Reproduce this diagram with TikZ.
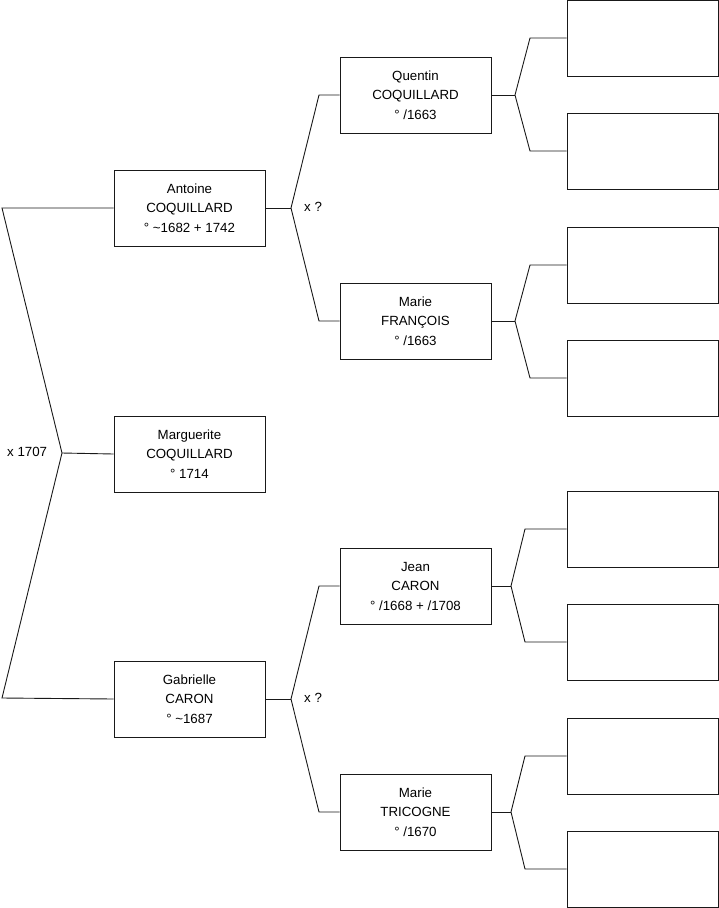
\documentclass[tikz,border=0pt]{standalone}
\usepackage{fontspec}
\setmainfont{Liberation Sans}
\begin{document}
\begin{tikzpicture}[x=1pt,y=-1pt,
  person/.style={draw=black!90,line width=0.9pt,minimum width=151pt,minimum height=76pt,inner sep=0pt,align=center,font=\fontsize{13.3}{19.5}\selectfont},
  link/.style={draw=black!90,line width=0.9pt},
  lbl/.style={font=\fontsize{13.3}{15}\selectfont,inner sep=0pt,anchor=west}]
\useasboundingbox (0,0) rectangle (719,908);
% generation 1-2
\node[person] (antoine) at (189.5,208) {Antoine\\COQUILLARD\\° \textasciitilde1682 + 1742};
\node[person] (marguerite) at (189.5,454) {Marguerite\\COQUILLARD\\° 1714};
\node[person] (gabrielle) at (189.5,699) {Gabrielle\\CARON\\° \textasciitilde1687};
% generation 3
\node[person] (quentin) at (415.5,95) {Quentin\\COQUILLARD\\° /1663};
\node[person] (marief) at (415.5,321) {Marie\\FRANÇOIS\\° /1663};
\node[person] (jean) at (415.5,586) {Jean\\CARON\\° /1668 + /1708};
\node[person] (mariet) at (415.5,812) {Marie\\TRICOGNE\\° /1670};
% generation 4 (empty)
\node[person] (e1) at (642.5,38) {};
\node[person] (e2) at (642.5,151) {};
\node[person] (e3) at (642.5,265) {};
\node[person] (e4) at (642.5,378) {};
\node[person] (e5) at (642.5,529) {};
\node[person] (e6) at (642.5,642) {};
\node[person] (e7) at (642.5,756) {};
\node[person] (e8) at (642.5,869) {};
% left fork
\coordinate (l1) at (2,208);
\coordinate (lm) at (62,453);
\coordinate (l2) at (2,698);
\draw[link] (antoine.west) -- (l1) -- (lm) -- (l2) -- (gabrielle.west);
\draw[link] (lm) -- (marguerite.west);
\node[lbl] (x1707) at (7,452) {x 1707};
% Antoine fork
\coordinate (af) at (291,208);
\draw[link] (antoine.east) -- (af);
\draw[link] (quentin.west) -- (319,95) -- (af) -- (319,321) -- (marief.west);
\node[lbl] (xa) at (304,207) {x ?};
% Gabrielle fork
\coordinate (gf) at (291,699);
\draw[link] (gabrielle.east) -- (gf);
\draw[link] (jean.west) -- (319,586) -- (gf) -- (319,812) -- (mariet.west);
\node[lbl] (xg) at (304,698) {x ?};
% Quentin fork
\coordinate (qf) at (515,95);
\draw[link] (quentin.east) -- (qf);
\draw[link] (e1.west) -- (530,38) -- (qf) -- (530,151) -- (e2.west);
% Marie F fork
\coordinate (mf) at (515,321);
\draw[link] (marief.east) -- (mf);
\draw[link] (e3.west) -- (530,265) -- (mf) -- (530,378) -- (e4.west);
% Jean fork
\coordinate (jf) at (511,586);
\draw[link] (jean.east) -- (jf);
\draw[link] (e5.west) -- (525,529) -- (jf) -- (525,642) -- (e6.west);
% Marie T fork
\coordinate (tf) at (511,812);
\draw[link] (mariet.east) -- (tf);
\draw[link] (e7.west) -- (525,756) -- (tf) -- (525,869) -- (e8.west);
\end{tikzpicture}
\end{document}
